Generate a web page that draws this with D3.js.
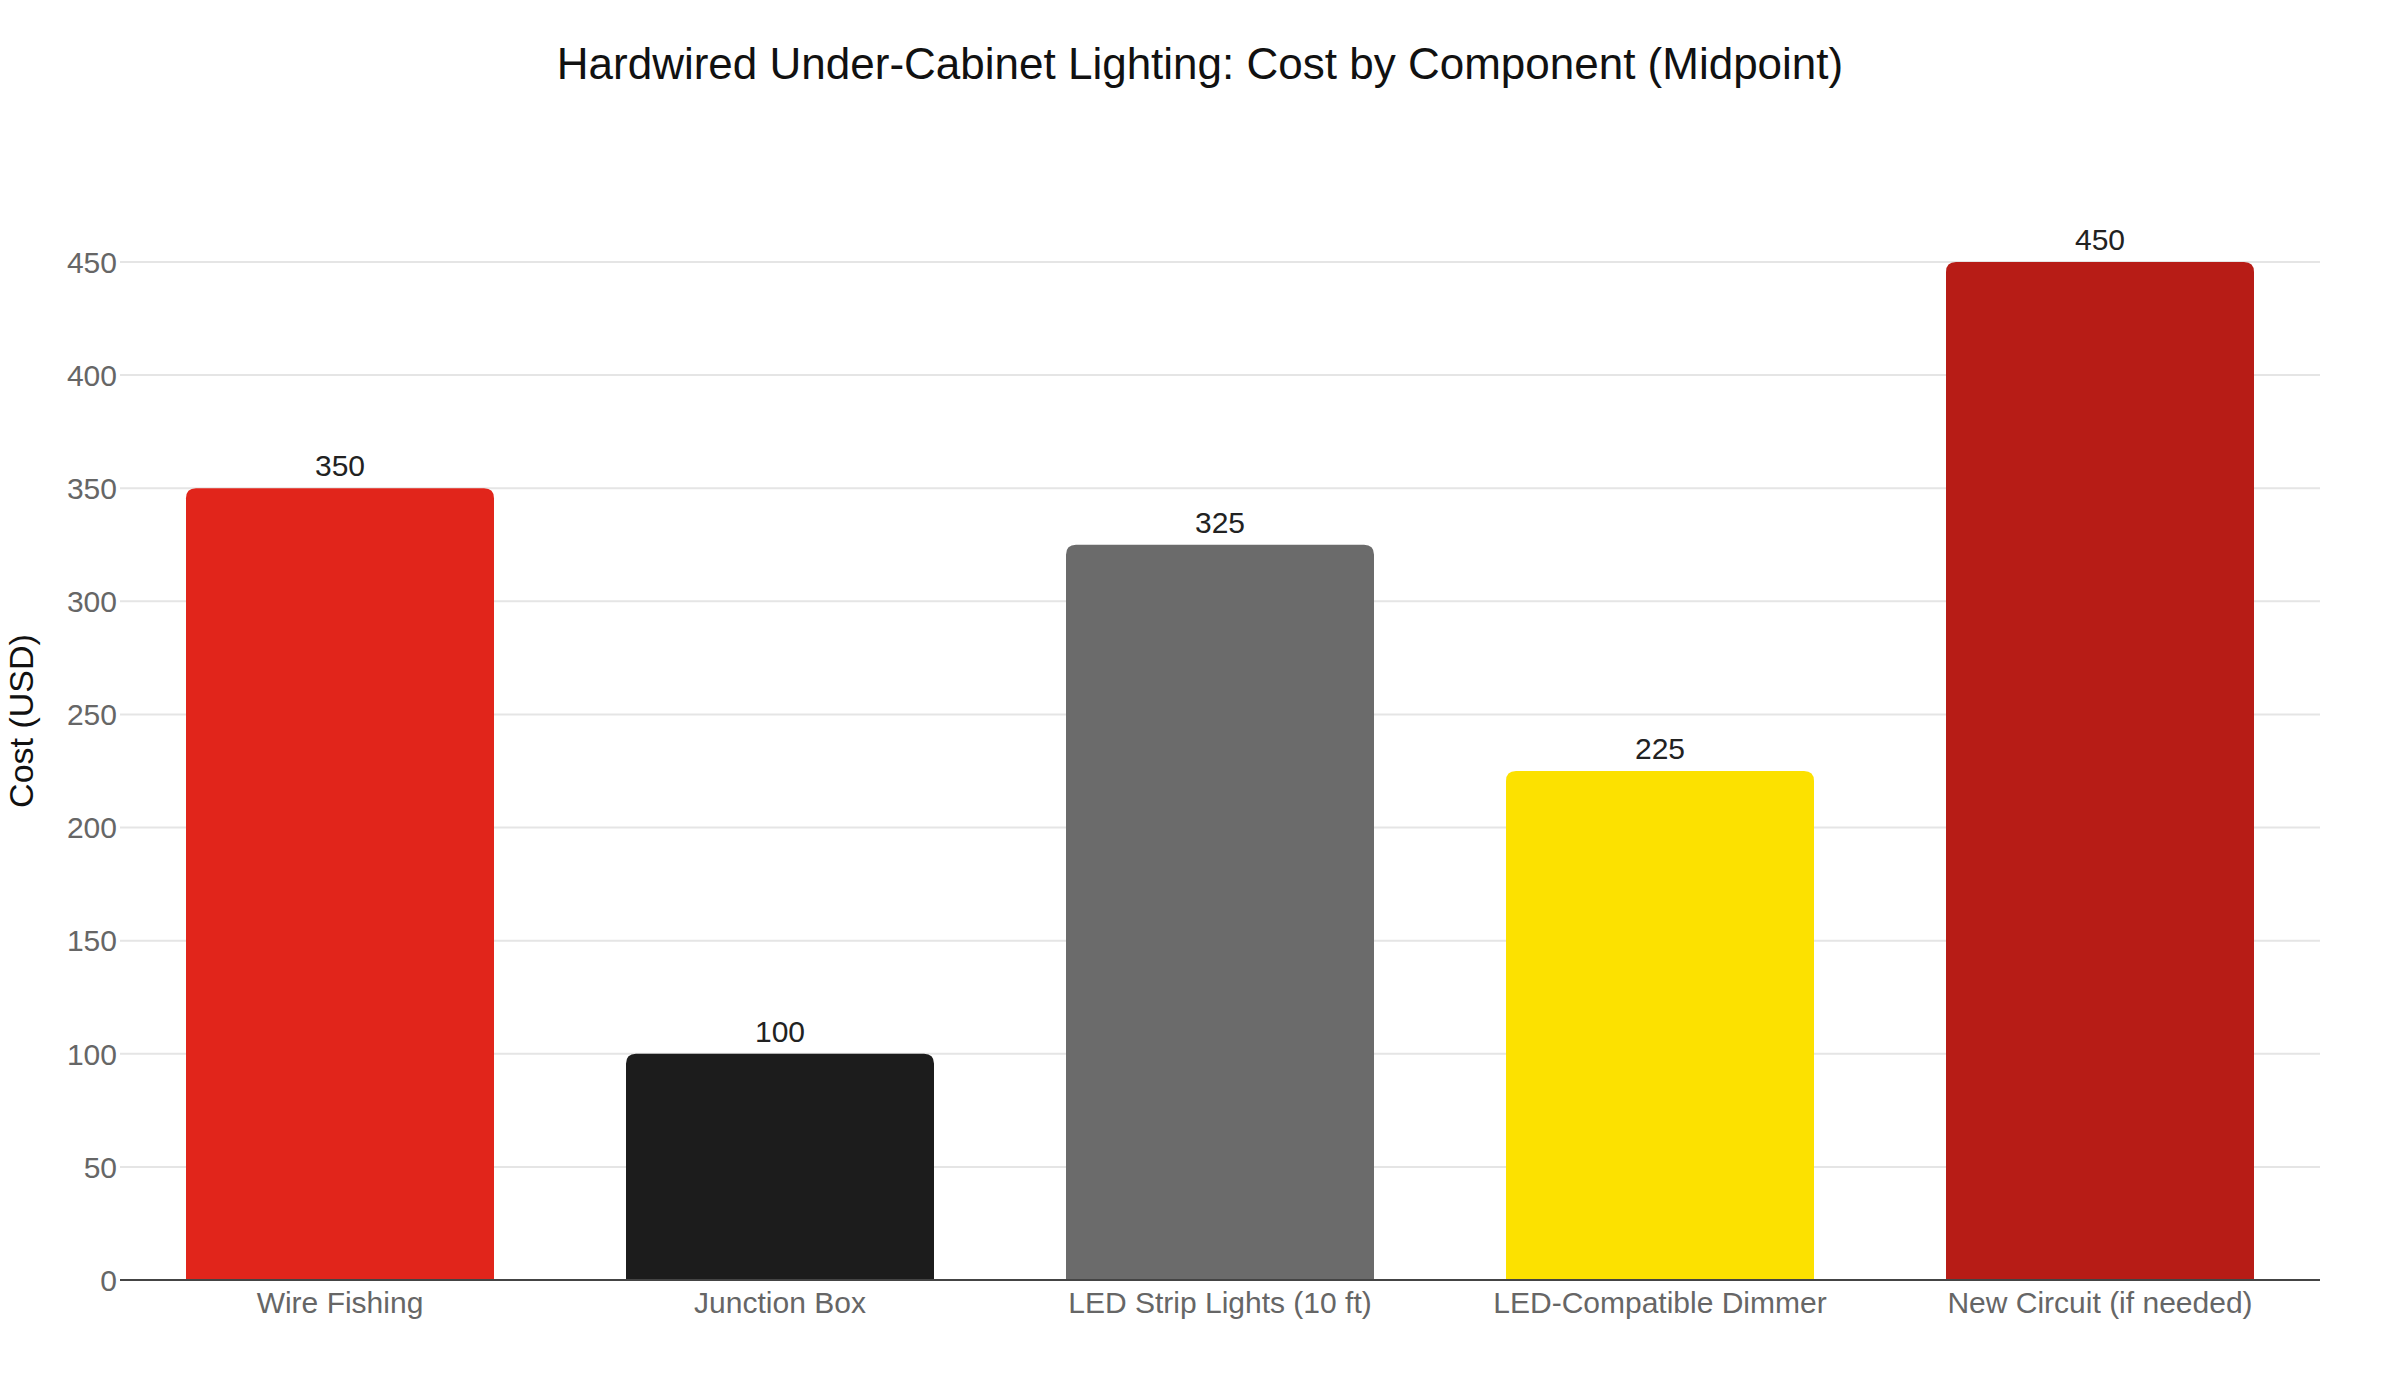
<!DOCTYPE html>
<html>
<head>
<meta charset="utf-8">
<script src="https://cdn.jsdelivr.net/npm/d3@7"></script>
<style>
  body { margin: 0; background: #fff; }
  svg text { font-family: "Liberation Sans", Arial, Helvetica, sans-serif; }
</style>
</head>
<body>
<div id="chart"></div>
<script>
// Data
const components = ["Wire Fishing", "Junction Box", "LED Strip Lights (10 ft)", "LED-Compatible Dimmer", "New Circuit (if needed)"];
const midpointCost = [350, 100, 325, 225, 450];
const yTicks = [0, 50, 100, 150, 200, 250, 300, 350, 400, 450];

const barColors = ["#e1251b", "#1c1c1c", "#6b6b6b", "#fce100", "#b71c16"];

const width = 2400;
const height = 1400;
const margin = { top: 262, right: 80, bottom: 120, left: 120 };

const svg = d3.select("#chart").append("svg")
    .attr("width", width)
    .attr("height", height);

const x = d3.scaleBand()
    .domain(components)
    .range([margin.left, width - margin.right])
    .paddingInner(0.3)
    .paddingOuter(0.15);

const y = d3.scaleLinear()
    .domain([0, 450])
    .range([height - margin.bottom, margin.top]);

const color = d3.scaleOrdinal()
    .domain(components)
    .range(barColors);

// gridlines
svg.append("g")
    .selectAll("line")
    .data(yTicks.filter(d => d > 0))
    .enter().append("line")
    .attr("x1", margin.left)
    .attr("x2", width - margin.right)
    .attr("y1", d => y(d))
    .attr("y2", d => y(d))
    .attr("stroke", "#e5e5e5")
    .attr("stroke-width", 2);

// y tick labels
svg.append("g")
    .selectAll("text")
    .data(yTicks)
    .enter().append("text")
    .attr("x", margin.left - 3)
    .attr("y", d => y(d))
    .attr("dy", "0.36em")
    .attr("text-anchor", "end")
    .attr("font-size", 30)
    .attr("fill", "#666")
    .text(d => d);

// bars with rounded top corners
const r = 10;
function barPath(d, i) {
    const x0 = x(components[i]);
    const x1 = x0 + x.bandwidth();
    const y0 = y(0);
    const y1 = y(d);
    return "M" + x0 + "," + y0 +
        "V" + (y1 + r) +
        "Q" + x0 + "," + y1 + " " + (x0 + r) + "," + y1 +
        "H" + (x1 - r) +
        "Q" + x1 + "," + y1 + " " + x1 + "," + (y1 + r) +
        "V" + y0 + "Z";
}

svg.append("g")
    .selectAll("path")
    .data(midpointCost)
    .enter().append("path")
    .attr("d", barPath)
    .attr("fill", (d, i) => color(components[i]));

// value labels
svg.append("g")
    .selectAll("text")
    .data(midpointCost)
    .enter().append("text")
    .attr("x", (d, i) => x(components[i]) + x.bandwidth() / 2)
    .attr("y", d => y(d) - 12)
    .attr("text-anchor", "middle")
    .attr("font-size", 30)
    .attr("fill", "#222")
    .text(d => d);

// zero line
svg.append("line")
    .attr("x1", margin.left)
    .attr("x2", width - margin.right)
    .attr("y1", y(0))
    .attr("y2", y(0))
    .attr("stroke", "#444")
    .attr("stroke-width", 2);

// x labels
svg.append("g")
    .selectAll("text")
    .data(components)
    .enter().append("text")
    .attr("x", d => x(d) + x.bandwidth() / 2)
    .attr("y", y(0) + 33)
    .attr("text-anchor", "middle")
    .attr("font-size", 30)
    .attr("fill", "#666")
    .text(d => d);

// y axis title
svg.append("text")
    .attr("transform", "translate(33,721)rotate(-90)")
    .attr("text-anchor", "middle")
    .attr("font-size", 34)
    .attr("fill", "#111")
    .text("Cost (USD)");

// title
svg.append("text")
    .attr("x", 1200)
    .attr("y", 79)
    .attr("text-anchor", "middle")
    .attr("font-size", 44)
    .attr("fill", "#111")
    .text("Hardwired Under-Cabinet Lighting: Cost by Component (Midpoint)");
</script>
</body>
</html>
